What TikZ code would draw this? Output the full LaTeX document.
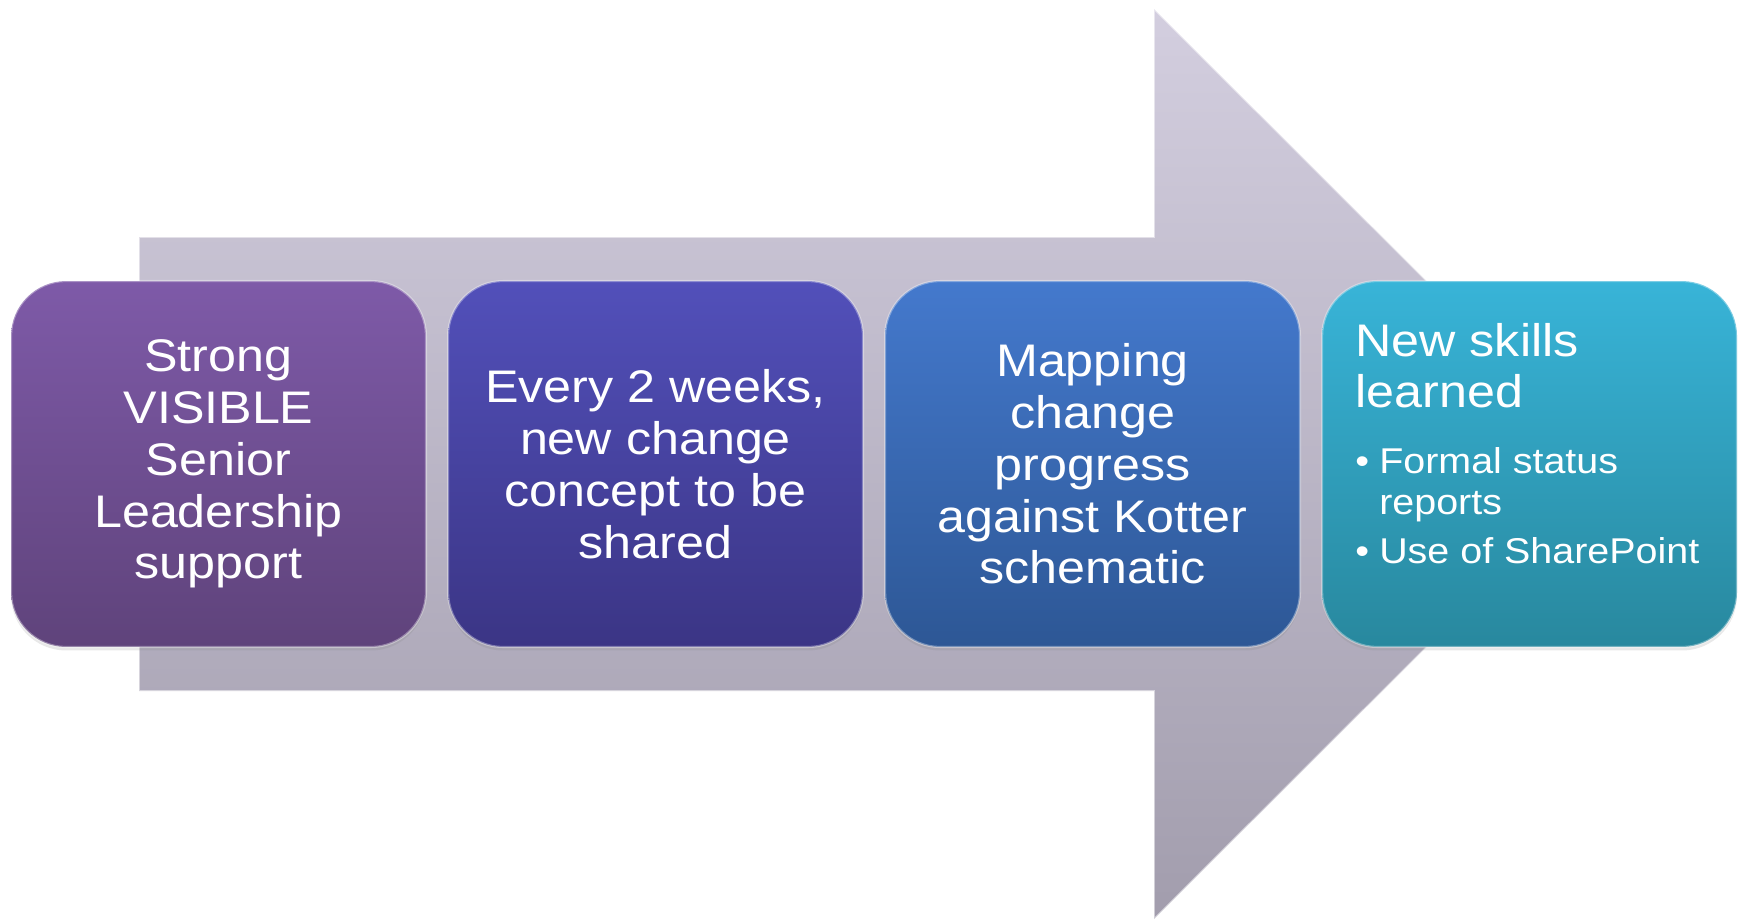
\documentclass[tikz,border=0pt]{standalone}
\usepackage{fontspec}
\setmainfont{Liberation Sans}[FakeStretch=1.1]
\usetikzlibrary{positioning, shadows}

\definecolor{arrowtop}{HTML}{D3CEDF}
\definecolor{arrowbot}{HTML}{A29DAD}
\definecolor{purpletop}{HTML}{7E5AA8}
\definecolor{purplebot}{HTML}{5F437B}
\definecolor{indigotop}{HTML}{5250BA}
\definecolor{indigobot}{HTML}{3B3585}
\definecolor{bluetop}{HTML}{4479CD}
\definecolor{bluebot}{HTML}{2D5795}
\definecolor{tealtop}{HTML}{38B4D8}
\definecolor{tealbot}{HTML}{28889E}

\newcommand{\itembul}{\makebox[13.6pt][l]{•}}

\begin{document}
\begin{tikzpicture}[
    x=0.02cm, y=-0.02cm,
    node distance=0.4cm,
    card/.style={rectangle, rounded corners=1.1cm, minimum width=8.3cm, minimum height=7.32cm, inner sep=0pt, align=center, text=white, font=\fontsize{26}{29.5}\selectfont, draw=white, draw opacity=0.35, line width=1.2pt, drop shadow={opacity=0.18, shadow xshift=0pt, shadow yshift=-2pt}},
    purplecard/.style={card, top color=purpletop, bottom color=purplebot},
    indigocard/.style={card, top color=indigotop, bottom color=indigobot},
    bluecard/.style={card, top color=bluetop, bottom color=bluebot},
    tealcard/.style={card, top color=tealtop, bottom color=tealbot},
    bigarrow/.style={top color=arrowtop, bottom color=arrowbot, draw=white, draw opacity=0.5, line width=1pt},
    cardtext/.style={anchor=north west, inner sep=0pt, text=white, align=left}
]
    \useasboundingbox (0,0) rectangle (1743,919);

    % --- 1. background arrow ---
    \path[bigarrow] (139,237) -- (1154,237) -- (1154,9) -- (1610,464)
        -- (1154,919) -- (1154,691) -- (139,691) -- cycle;

    % --- 2. cards ---
    \node[purplecard] (lead) at (218.5,464) {Strong\\VISIBLE\\Senior\\Leadership\\support};
    \node[indigocard, right=of lead] (share) {Every 2 weeks,\\new change\\concept to be\\shared};
    \node[bluecard, right=of share] (kotter) {Mapping\\change\\progress\\against Kotter\\schematic};
    \node[tealcard, right=of kotter] (skills) {};

    % --- 3. last card: heading and bullets ---
    \node[cardtext, font=\fontsize{26}{28.9}\selectfont] (skillshead)
        at ([xshift=0.68cm, yshift=-0.86cm]skills.north west) {New skills\\learned};
    \node[cardtext, font=\fontsize{20.4}{23.2}\selectfont] (skillslist)
        at ([yshift=-0.78cm]skillshead.south west)
        {\itembul Formal status\\\hspace*{13.6pt}reports\\[5pt]\itembul Use of SharePoint};

\end{tikzpicture}
\end{document}
